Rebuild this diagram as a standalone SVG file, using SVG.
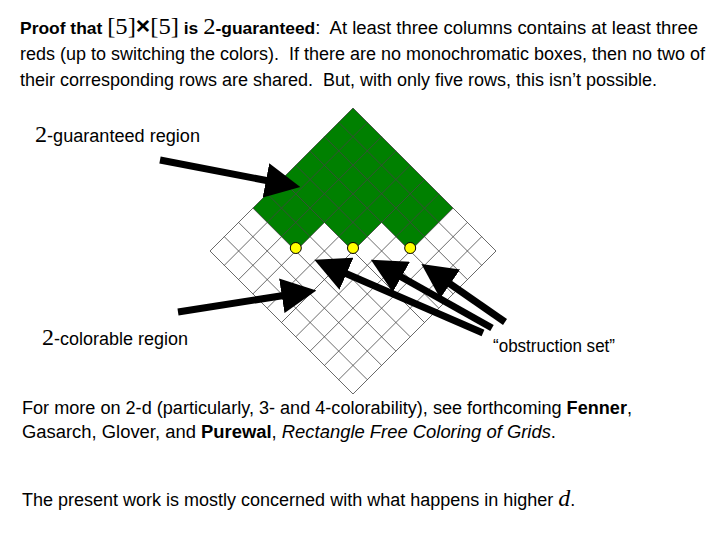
<svg xmlns="http://www.w3.org/2000/svg" width="720" height="540" viewBox="0 0 720 540">
<style>
text{font-family:"Liberation Sans",Arial,sans-serif;font-size:18px;fill:#000}
.b{font-weight:bold}
.m{font-family:"Liberation Serif","Times New Roman",serif;font-size:24px}
.g{stroke:#444;stroke-width:0.8;fill:none}
.ar{stroke:#000;stroke-width:7;marker-end:url(#ah)}
</style>
<defs>
<marker id="ah" markerWidth="5" markerHeight="5" refX="3.5" refY="2.5" orient="auto" markerUnits="strokeWidth">
<path d="M0,0 L5,2.5 L0,5 z" fill="#000"/>
</marker>
</defs>
<rect width="720" height="540" fill="#fff"/>
<g id="title">
<text x="20" y="34" textLength="678" lengthAdjust="spacingAndGlyphs" xml:space="preserve"><tspan class="b" font-size="17">Proof that </tspan><tspan class="m" font-size="27">[5]</tspan><tspan class="b" font-size="24">×</tspan><tspan class="m" font-size="27">[5]</tspan><tspan class="b" font-size="17"> is </tspan><tspan class="m" font-size="27">2</tspan><tspan class="b" font-size="17">-guaranteed</tspan>:  At least three columns contains at least three</text>
<text x="20" y="60" textLength="685" lengthAdjust="spacingAndGlyphs" xml:space="preserve">reds (up to switching the colors).  If there are no monochromatic boxes, then no two of</text>
<text x="20" y="86" textLength="637" lengthAdjust="spacingAndGlyphs" xml:space="preserve">their corresponding rows are shared.  But, with only five rows, this isn’t possible.</text>
</g>
<g id="grid">
<polygon points="353,108 453.1,208.1 410.2,251 381.6,222.4 353,251 324.4,222.4 295.8,251 252.9,208.1" fill="#008000"/>
<path class="g" d="M353,108L496,251M338.7,122.3L481.7,265.3M324.4,136.6L467.4,279.6M310.1,150.9L453.1,293.9M295.8,165.2L438.8,308.2M281.5,179.5L424.5,322.5M267.2,193.8L410.2,336.8M252.9,208.1L395.9,351.1M238.6,222.4L381.6,365.4M224.3,236.7L367.3,379.7M210,251L353,394
M353,108L210,251M367.3,122.3L224.3,265.3M381.6,136.6L238.6,279.6M395.9,150.9L252.9,293.9M410.2,165.2L267.2,308.2M424.5,179.5L281.5,322.5M438.8,193.8L295.8,336.8M453.1,208.1L310.1,351.1M467.4,222.4L324.4,365.4M481.7,236.7L338.7,379.7M496,251L353,394"/>
</g>
<g id="dots" fill="#ffff00" stroke="#000" stroke-width="1">
<circle cx="295.8" cy="248" r="5.5"/>
<circle cx="353" cy="248" r="5.5"/>
<circle cx="410.2" cy="248" r="5.5"/>
</g>
<g id="connectors">
<line class="ar" x1="160" y1="160" x2="290" y2="185"/>
<line class="ar" x1="178" y1="312" x2="306" y2="292"/>
<line class="ar" x1="483" y1="333" x2="324" y2="264"/>
<line class="ar" x1="492" y1="328" x2="380" y2="265"/>
<line class="ar" x1="505" y1="322" x2="430" y2="270"/>
</g>
<g id="label-guaranteed"><text x="35" y="142" textLength="165" lengthAdjust="spacingAndGlyphs"><tspan class="m">2</tspan>-guaranteed region</text></g>
<g id="label-colorable"><text x="42" y="345" textLength="146" lengthAdjust="spacingAndGlyphs"><tspan class="m">2</tspan>-colorable region</text></g>
<g id="label-obstruction"><text x="493" y="352" textLength="122" lengthAdjust="spacingAndGlyphs">“obstruction set”</text></g>
<g id="footer">
<text x="22" y="414" textLength="610" lengthAdjust="spacingAndGlyphs">For more on 2-d (particularly, 3- and 4-colorability), see forthcoming <tspan class="b">Fenner</tspan>,</text>
<text x="22" y="438" textLength="534" lengthAdjust="spacingAndGlyphs">Gasarch, Glover, and <tspan class="b">Purewal</tspan>, <tspan font-style="italic">Rectangle Free Coloring of Grids</tspan>.</text>
<text x="22" y="506">The present work is mostly concerned with what happens in higher <tspan class="m" font-style="italic" font-size="28">d</tspan>.</text>
</g>
</svg>
